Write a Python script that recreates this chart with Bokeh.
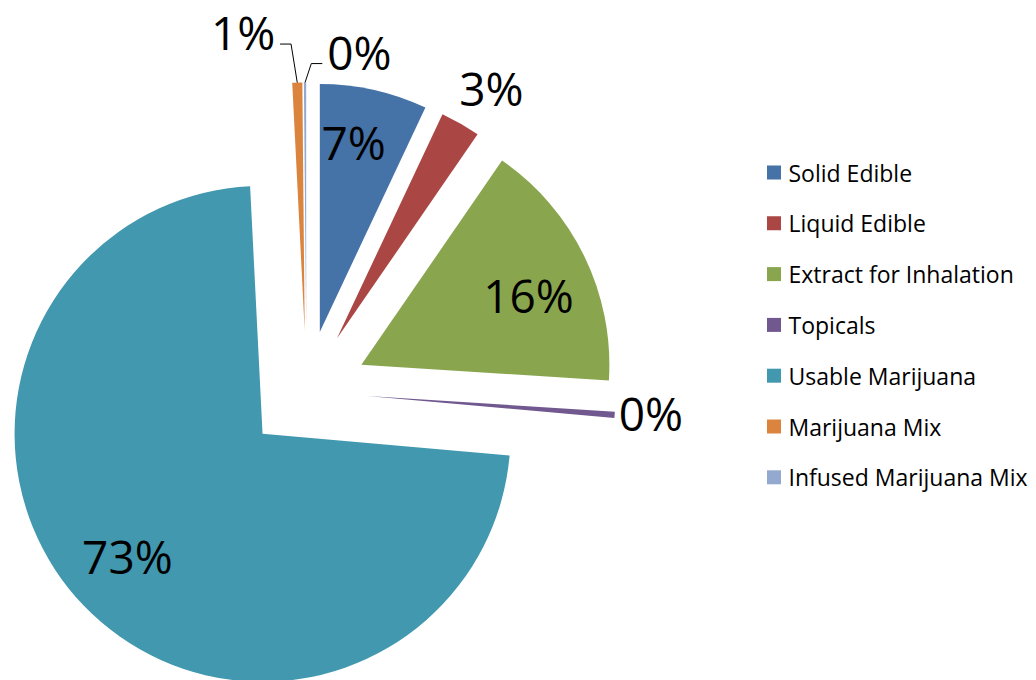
import numpy as np
from bokeh.plotting import figure
from bokeh.models import ColumnDataSource, Range1d
from bokeh.core.properties import value
from bokeh.embed import file_html
from bokeh.resources import INLINE

# ---- data ----
categories = ["Solid Edible", "Liquid Edible", "Extract for Inhalation", "Topicals",
              "Usable Marijuana", "Marijuana Mix", "Infused Marijuana Mix"]
shares = [7.0, 2.6, 16.4, 0.4, 72.8, 0.65, 0.15]
colors = ["#4572A7", "#AA4643", "#89A54E", "#71588F", "#4198AF", "#DB843D", "#93A9CF"]

# ---- style / layout ----
W, H = 1036, 680
CX, CY = 306, 289          # pie centre (px)
R = 248                    # radius (px)
EXPLODE = 61               # explosion distance (px)
LABEL_FONT = "Open Sans"
lab_nudge_deg = [-1.9, 1.5, 2.5, -0.7, 1.4, -8.3, 9.1]
lab_dist = [254, 355, 242, 345, 243, 365, 344]

frac = np.array(shares) / np.sum(shares)
theta_end = np.cumsum(frac) * 2 * np.pi
theta_start = theta_end - frac * 2 * np.pi
mid = (theta_start + theta_end) / 2
ax = CX + EXPLODE * np.sin(mid)
ay = CY + EXPLODE * np.cos(mid)

src = ColumnDataSource(dict(
    x=ax, y=ay,
    start=np.pi / 2 - theta_end,
    end=np.pi / 2 - theta_start,
    color=colors, category=categories,
))

p = figure(width=W, height=H, x_range=Range1d(0, W), y_range=Range1d(0, H),
           x_axis_type=None, y_axis_type=None, toolbar_location=None,
           output_backend="svg", min_border=0, outline_line_color=None)
p.grid.visible = False
p.background_fill_color = "white"

p.wedge(x="x", y="y", radius=R, start_angle="start", end_angle="end",
        fill_color="color", line_color=None, source=src)

# ---- data labels ----
texts = [f"{int(round(s))}%" for s in shares]
lang = mid + np.radians(lab_nudge_deg)
lx = CX + np.array(lab_dist) * np.sin(lang)
ly = CY + np.array(lab_dist) * np.cos(lang)
p.text(x=lx, y=ly, text=texts, text_font=value(LABEL_FONT), text_font_size="46px",
       text_align="center", text_baseline="middle", text_color="black")

# ---- leader lines for the two tiny top slices ----
xs, ys = [], []
for i in (5, 6):
    ox = ax[i] + R * np.sin(mid[i])
    oy = ay[i] + R * np.cos(mid[i])
    side = 1 if ox > lx[i] else -1
    sx = lx[i] + side * 37
    sy = ly[i] - 12
    xs.append([sx, sx + side * 11, ox])
    ys.append([sy, sy, oy])
p.multi_line(xs=xs, ys=ys, line_color="black", line_width=1)

# ---- legend ----
n = len(categories)
leg_top = 508
pitch = 50.8
leg_y = [leg_top - i * pitch for i in range(n)]
p.rect(x=[773.5] * n, y=leg_y, width=14, height=14, fill_color=colors, line_color=None)
p.text(x=[788] * n, y=leg_y, text=categories, text_font=value(LABEL_FONT),
       text_font_size="23px", text_align="left", text_baseline="middle", text_color="black")

open("out.html", "w").write(file_html(p, INLINE))
